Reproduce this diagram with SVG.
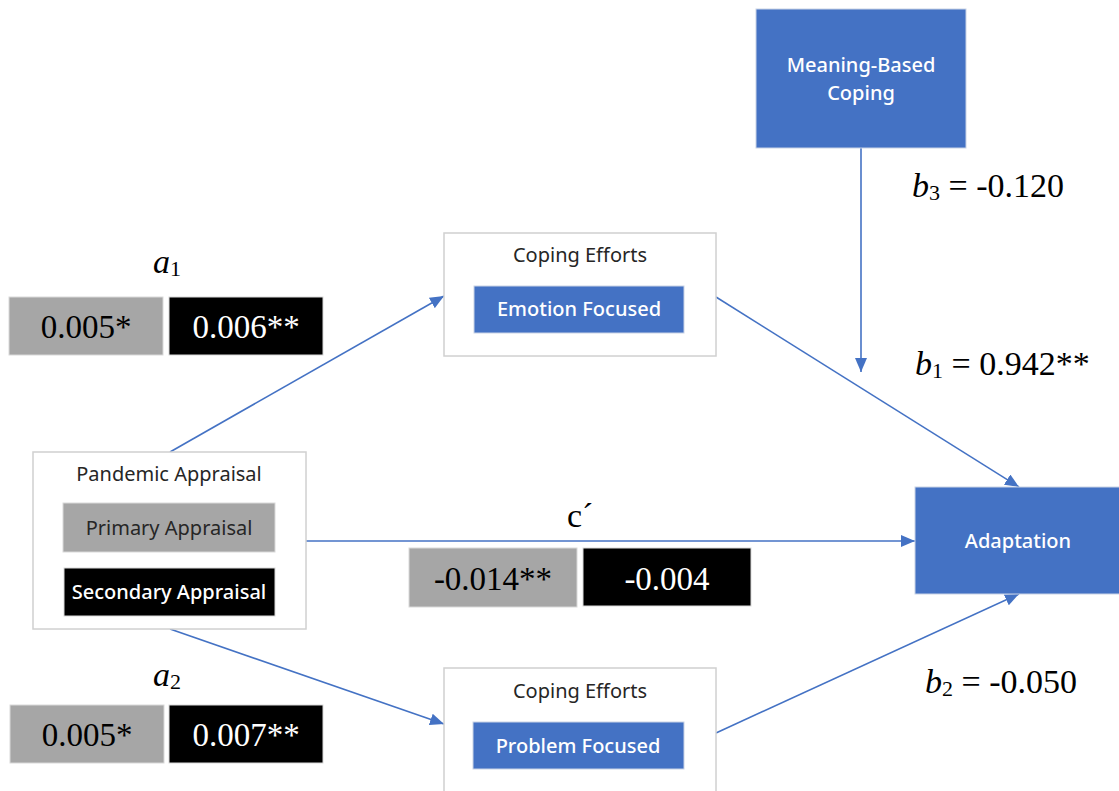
<svg xmlns="http://www.w3.org/2000/svg" width="1119" height="791" viewBox="0 0 1119 791">
  <defs>
    <marker id="arrow" viewBox="0 0 14 12" refX="14" refY="6" markerWidth="14" markerHeight="12" markerUnits="userSpaceOnUse" orient="auto">
      <path d="M0,0 L14,6 L0,12 Z" fill="#4472C4"/>
    </marker>
    <style>
      .frame { fill: #FFFFFF; stroke: #D0D0D0; stroke-width: 1.5; }
      .blue { fill: #4472C4; stroke: #C9D3E6; stroke-width: 1; }
      .grey { fill: #A6A6A6; stroke: #D9D9D9; stroke-width: 1; }
      .black { fill: #000000; stroke: #D9D9D9; stroke-width: 1; }
      .head { font-family: "Noto Sans", "Open Sans", sans-serif; font-size: 20px; fill: #262626; text-anchor: middle; }
      .inner { font-family: "Noto Sans", "Open Sans", sans-serif; font-size: 20px; text-anchor: middle; }
      .light { fill: #FFFFFF; font-weight: 500; }
      .dark { fill: #262626; }
      .num { font-family: "Liberation Serif", "Times New Roman", serif; font-size: 33px; text-anchor: middle; }
      .coef { font-family: "Liberation Serif", "Times New Roman", serif; font-size: 34px; fill: #000000; }
      .link { fill: none; stroke: #4472C4; stroke-width: 1.6; marker-end: url(#arrow); }
    </style>
  </defs>
  <rect width="1119" height="791" fill="#FFFFFF"/>

  <!-- paths between the constructs -->
  <g id="connectors">
    <line class="link" x1="170" y1="452" x2="444" y2="296"/>
    <line class="link" x1="170" y1="629" x2="444" y2="724"/>
    <line class="link" x1="306" y1="541" x2="915" y2="541"/>
    <line class="link" x1="716" y1="297" x2="1019" y2="487"/>
    <line class="link" x1="716" y1="733" x2="1019" y2="594"/>
    <line class="link" x1="861" y1="148" x2="861" y2="372"/>
  </g>

  <g id="meaning-based-coping">
    <rect class="blue" x="756" y="9" width="210" height="139"/>
    <text class="inner light" x="861" y="72">Meaning-Based</text>
    <text class="inner light" x="861" y="100">Coping</text>
  </g>

  <g id="emotion-focused">
    <rect class="frame" x="444" y="233" width="272" height="123"/>
    <text class="head" x="580" y="262">Coping Efforts</text>
    <rect class="blue" x="474" y="286" width="210" height="47"/>
    <text class="inner light" x="579" y="316">Emotion Focused</text>
  </g>

  <g id="problem-focused">
    <rect class="frame" x="444" y="668" width="272" height="130"/>
    <text class="head" x="580" y="698">Coping Efforts</text>
    <rect class="blue" x="473" y="722" width="211" height="47"/>
    <text class="inner light" x="578" y="753">Problem Focused</text>
  </g>

  <g id="pandemic-appraisal">
    <rect class="frame" x="33" y="452" width="273" height="177"/>
    <text class="head" x="169" y="481">Pandemic Appraisal</text>
    <rect class="grey" x="63" y="503" width="212" height="49"/>
    <text class="inner dark" x="169" y="535">Primary Appraisal</text>
    <rect class="black" x="64" y="568" width="211" height="48"/>
    <text class="inner light" x="169" y="599">Secondary Appraisal</text>
  </g>

  <g id="adaptation">
    <rect class="blue" x="915" y="487" width="206" height="107"/>
    <text class="inner light" x="1018" y="548">Adaptation</text>
  </g>

  <!-- a1 path estimates -->
  <g id="label-a1">
    <text class="coef" x="153" y="273"><tspan font-style="italic">a</tspan><tspan font-size="22px" dy="3">1</tspan></text>
    <rect class="grey" x="9" y="297" width="154" height="58"/>
    <text class="num" x="86" y="338" fill="#000000">0.005*</text>
    <rect class="black" x="169" y="297" width="154" height="58"/>
    <text class="num" x="246" y="338" fill="#FFFFFF">0.006**</text>
  </g>

  <!-- a2 path estimates -->
  <g id="label-a2">
    <text class="coef" x="153" y="686"><tspan font-style="italic">a</tspan><tspan font-size="22px" dy="3">2</tspan></text>
    <rect class="grey" x="10" y="705" width="154" height="58"/>
    <text class="num" x="87" y="746" fill="#000000">0.005*</text>
    <rect class="black" x="169" y="705" width="154" height="58"/>
    <text class="num" x="246" y="746" fill="#FFFFFF">0.007**</text>
  </g>

  <!-- direct effect c' -->
  <g id="label-c">
    <text class="coef" x="567" y="527">c´</text>
    <rect class="grey" x="409" y="548" width="168" height="59"/>
    <text class="num" x="493" y="590" fill="#000000">-0.014**</text>
    <rect class="black" x="583" y="548" width="168" height="58"/>
    <text class="num" x="667" y="590" fill="#FFFFFF">-0.004</text>
  </g>

  <!-- b path estimates -->
  <g id="label-b3">
    <text class="coef" x="912" y="197"><tspan font-style="italic">b</tspan><tspan font-size="22px" dy="3">3</tspan><tspan dy="-3"> = -0.120</tspan></text>
  </g>
  <g id="label-b1">
    <text class="coef" x="915" y="375"><tspan font-style="italic">b</tspan><tspan font-size="22px" dy="3">1</tspan><tspan dy="-3"> = 0.942**</tspan></text>
  </g>
  <g id="label-b2">
    <text class="coef" x="925" y="693"><tspan font-style="italic">b</tspan><tspan font-size="22px" dy="3">2</tspan><tspan dy="-3"> = -0.050</tspan></text>
  </g>
</svg>
